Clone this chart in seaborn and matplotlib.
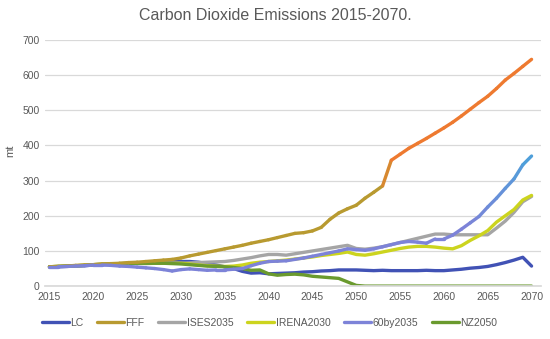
import numpy as np
import pandas as pd
import matplotlib
matplotlib.use('Agg')
import matplotlib.pyplot as plt
from matplotlib.collections import LineCollection
from matplotlib.colors import LinearSegmentedColormap, Normalize
import seaborn as sns

sns.set_theme(style="white")
plt.rcParams['font.family'] = ['Liberation Sans', 'DejaVu Sans']

# Yearly values (mt)
years = list(range(2015, 2071))

lc = [55, 55, 56, 57, 58, 60, 61, 62, 63, 64,
      65, 66, 67, 68, 69, 70, 70, 68, 64, 60,
      55, 50, 42, 37, 38, 35, 36, 37, 38, 40,
      41, 43, 44, 46, 46, 46, 45, 44, 45, 44,
      44, 44, 44, 45, 44, 44, 46, 48, 51, 53,
      56, 61, 67, 74, 82, 57]

fff = [55, 56, 57, 59, 60, 61, 63, 64, 65, 67,
       68, 70, 72, 74, 76, 80, 86, 91, 96, 101,
       106, 111, 116, 122, 127, 132, 138, 144, 150, 152,
       157, 167, 190, 208, 220, 230, 250, 267, 285, 358,
       375, 392, 406, 420, 435, 450, 466, 484, 503, 522,
       540, 562, 586, 605, 625, 645]

ises2035 = [55, 56, 57, 58, 59, 61, 62, 63, 63, 64,
            64, 64, 65, 65, 65, 65, 66, 67, 68, 69,
            70, 73, 77, 81, 86, 90, 90, 88, 92, 96,
            100, 104, 108, 112, 116, 107, 105, 108, 112, 118,
            124, 130, 136, 142, 148, 148, 146, 146, 146, 146,
            146, 165, 185, 210, 240, 255]

irena2030 = [55, 56, 57, 58, 59, 61, 62, 63, 64, 64,
             65, 65, 65, 65, 65, 65, 63, 60, 58, 57,
             56, 57, 60, 65, 68, 70, 72, 74, 77, 80,
             83, 87, 90, 93, 97, 90, 88, 92, 97, 102,
             107, 111, 113, 113, 111, 108, 106, 115, 130, 143,
             158, 182, 200, 218, 245, 258]

by2035 = [55, 55, 56, 57, 58, 60, 60, 59, 57, 56,
          54, 52, 50, 47, 43, 47, 49, 47, 45, 46,
          46, 48, 50, 58, 65, 70, 71, 72, 76, 80,
          85, 90, 95, 100, 106, 104, 102, 106, 112, 118,
          124, 127, 125, 122, 134, 134, 145, 162, 180, 198,
          225, 250, 278, 305, 345, 370]

nz2050 = [55, 56, 57, 58, 59, 61, 62, 63, 64, 65,
          65, 65, 65, 65, 64, 63, 61, 59, 57, 56,
          55, 53, 50, 45, 46, 35, 31, 33, 34, 32,
          28, 26, 24, 22, 12, 2, 0, 0, 0, 0,
          0, 0, 0, 0, 0, 0, 0, 0, 0, 0,
          0, 0, 0, 0, 0, 0]

names = ['LC', 'FFF', 'ISES2035', 'IRENA2030', '60by2035', 'NZ2050']
series = [lc, fff, ises2035, irena2030, by2035, nz2050]
colors = ['#4152b5', '#b89a30', '#a5a5a5', '#ccd41e', '#7d83d8', '#6a9a2e']

# long form table for seaborn
df = pd.DataFrame({
    'year': years * len(names),
    'value': sum(series, []),
    'scenario': [n for n in names for _ in years],
})

fig = plt.figure(figsize=(5.5, 3.39), dpi=100)
ax = fig.add_axes([0.082, 0.156, 0.902, 0.726])

sns.lineplot(data=df, x='year', y='value', hue='scenario', hue_order=names,
             palette=dict(zip(names, colors)), linewidth=2.4, ax=ax,
             legend=False)

# Excel style vertical gradients on two of the lines
gradients = {
    'FFF': (['#b89a30', '#b89a30', '#ee7a30', '#ee7a30'], [0, 0.42, 0.55, 1.0], 0, 650),
    '60by2035': (['#7d83d8', '#7d83d8', '#4aa2da'], [0, 0.45, 1.0], 0, 380),
}
for line, name in zip(ax.lines, names):
    if name in gradients:
        cols, stops, lo, hi = gradients[name]
        cmap = LinearSegmentedColormap.from_list(name, list(zip(stops, cols)))
        xy = line.get_xydata()
        segs = np.stack([xy[:-1], xy[1:]], axis=1)
        mids = (xy[:-1, 1] + xy[1:, 1]) / 2
        lc_coll = LineCollection(segs, cmap=cmap, norm=Normalize(lo, hi),
                                 linewidth=2.4, capstyle='round', zorder=line.get_zorder())
        lc_coll.set_array(mids)
        ax.add_collection(lc_coll)
        line.set_visible(False)

ax.set_xlim(2014.5, 2071.1)
ax.set_ylim(0, 700)
ax.set_xticks(range(2015, 2071, 5))
ax.set_yticks(range(0, 701, 100))
ax.grid(axis='y', color='#d9d9d9', linewidth=0.9)
ax.tick_params(axis='both', labelsize=7.5, colors='#595959', length=0, pad=4)
for s in ['top', 'right', 'left']:
    ax.spines[s].set_visible(False)
ax.spines['bottom'].set_color('#d9d9d9')
ax.set_xlabel('')
ax.set_ylabel('mt', fontsize=8, color='#595959')
ax.yaxis.set_label_coords(-0.06, 0.55)

fig.suptitle('Carbon Dioxide Emissions 2015-2070.', fontsize=11.5, color='#595959', y=0.975)

handles = [plt.Line2D([], [], color=c, linewidth=2.4) for c in colors]
fig.legend(handles, names, loc='lower center', bbox_to_anchor=(0.49, 0.005), ncol=6,
           frameon=False, fontsize=7.5, handlelength=2.6, handletextpad=0.15,
           columnspacing=1.3, labelcolor='#595959')

fig.savefig('out.png', dpi=100)
